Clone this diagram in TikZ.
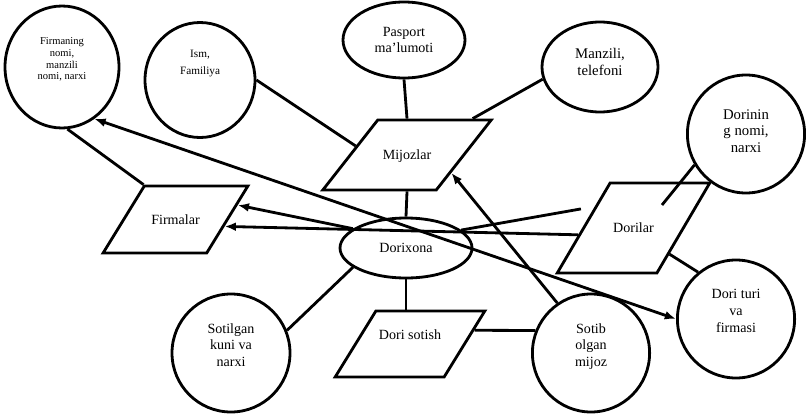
\documentclass[tikz,border=0pt]{standalone}
\usepackage{fontspec}
\setmainfont{Liberation Serif}
\usetikzlibrary{arrows.meta,shapes.geometric}

\begin{document}
\begin{tikzpicture}[every node/.style={font=\fontsize{10}{12}\selectfont},
  attr/.style={ellipse,draw,line width=2pt,inner sep=0pt,align=center,text depth=0.4cm},
  ent/.style={trapezium,trapezium stretches,draw,line width=2pt,inner sep=0pt},
  rel/.style={ellipse,draw,line width=2pt,minimum width=3.3cm,minimum height=1.5cm},
  lnk/.style={line width=2pt},
  arr/.style={lnk,-{Latex[length=2.8mm,width=2.2mm]}},
  arrs/.style={lnk,{Latex[length=2.8mm,width=2.2mm]}-{Latex[length=2.8mm,width=2.2mm]}}]
\useasboundingbox (0,0) rectangle (20.15,10.35);
% attributes
\node[attr,minimum width=2.85cm,minimum height=3.05cm,font=\fontsize{7.5}{8.3}\selectfont] (firmanomi) at (1.55,8.675) {Firmaning\\nomi,\\manzili\\nomi, narxi};
\node[attr,minimum width=2.75cm,minimum height=2.875cm,text depth=0.9cm,font=\fontsize{8}{12}\selectfont] (ism) at (5.0,8.35) {Ism,\\Familiya};
\node[attr,minimum width=3.05cm,minimum height=1.9cm,text depth=] (pasport) at (10.1,9.35) {Pasport\\ma'lumoti};
\node[attr,minimum width=2.9cm,minimum height=2.25cm,text depth=0.25cm,font=\fontsize{10.5}{12}\selectfont] (manzili) at (15.0,8.675) {Manzili,\\telefoni};
\node[attr,minimum width=2.93cm,minimum height=2.95cm,text depth=0.15cm,font=\fontsize{10.5}{12}\selectfont] (dorinom) at (18.65,7.0) {Dorinin\\g nomi,\\narxi};
\node[attr,minimum width=2.93cm,minimum height=2.95cm] (dorituri) at (18.4,2.375) {Dori turi\\va\\firmasi};
\node[attr,minimum width=2.93cm,minimum height=2.95cm] (sotib) at (14.775,1.525) {Sotib\\olgan\\mijoz};
\node[attr,minimum width=2.95cm,minimum height=2.95cm] (sotilgan) at (5.775,1.525) {Sotilgan\\kuni va\\narxi};
% entities
\node[ent,minimum width=4.25cm,text height=0.995cm,text depth=0.755cm,trapezium left angle=57,trapezium right angle=123] (mijozlar) at (10.175,6.475) {Mijozlar};
\node[ent,minimum width=3.625cm,text height=0.9575cm,text depth=0.7175cm,trapezium left angle=64.5,trapezium right angle=115.5] (firmalar) at (4.3875,4.8625) {Firmalar};
\node[ent,minimum width=3.825cm,text height=1.245cm,text depth=1.005cm,trapezium left angle=63,trapezium right angle=117] (dorilar) at (15.8375,4.65) {Dorilar};
\node[ent,minimum width=3.75cm,text height=0.72cm,text depth=0.93cm,trapezium left angle=60.7,trapezium right angle=119.3] (dorisotish) at (10.25,1.75) {Dori sotish};
\node[rel] (dorixona) at (10.15,4.15) {Dorixona};
\coordinate (dorilarIn) at (16.55,5.225);
% connectors
\draw[lnk] (ism.east) -- (mijozlar.170);
\draw[lnk] (pasport.south) -- (mijozlar.north);
\draw[lnk] (manzili.192) -- (mijozlar.29);
\draw[lnk] (mijozlar.south) -- (dorixona.north);
\draw[lnk] (firmanomi.-85) -- (firmalar.top left corner);
\draw[arr] (dorixona.160) -- (firmalar.13);
\draw[arr] (dorilar.187) -- (firmalar.352);
\draw[lnk,shorten >=0.35cm] (dorixona.18) -- (dorilar.151);
\draw[lnk] (dorinom.211) -- (dorilarIn);
\draw[lnk] (dorilar.324) -- (dorituri.129);
\draw[arrs] (firmanomi.302) -- (dorituri.180);
\draw[arr] (sotib.124) -- (mijozlar.338);
\draw[lnk] (dorixona.south) -- (dorixona.south |- dorisotish.north);
\draw[lnk] (dorisotish.12) -- (sotib.158);
\draw[lnk] (sotilgan.22) -- (dorixona.200);
\end{tikzpicture}
\end{document}
